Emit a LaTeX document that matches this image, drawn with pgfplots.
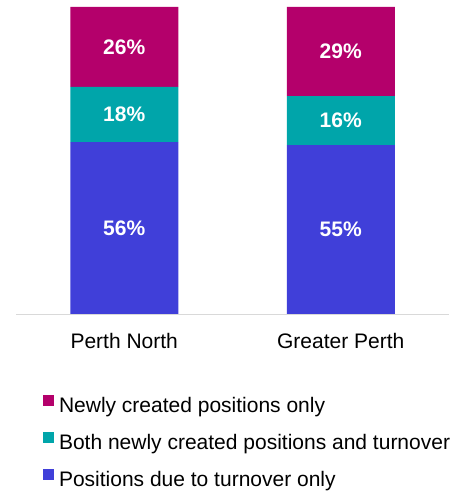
\documentclass[border=0pt]{standalone}
\usepackage{pgfplots}
\pgfplotsset{compat=1.18}
\usepackage{fontspec}
\setmainfont{Liberation Sans}
\definecolor{cmag}{HTML}{B4006B}
\definecolor{cteal}{HTML}{00A5AA}
\definecolor{cblue}{HTML}{403FD9}
\begin{document}
\begin{tikzpicture}
\useasboundingbox (0,0) rectangle (469bp,492bp);
\begin{axis}[
  at={(16bp,178bp)}, anchor=south west,
  scale only axis, width=433bp, height=307bp,
  ybar stacked, bar width=108bp,
  xmin=-0.5, xmax=1.5, ymin=0, ymax=100,
  axis y line=none, axis x line*=bottom,
  x axis line style={draw=black!15, line width=1bp, -},
  xtick={0,1}, xticklabels={Perth North, Greater Perth},
  major tick length=0,
  xticklabel style={font=\fontsize{21bp}{25bp}\selectfont, text=black, inner sep=0pt, yshift=-19bp},
  point meta=explicit,
  nodes near coords={\pgfmathprintnumber[assume math mode=true]{\pgfplotspointmeta}\%},
  every node near coord/.append style={font=\bfseries\fontsize{21bp}{25bp}\selectfont, text=white, anchor=center},
  reverse legend,
  legend cell align=left,
  legend image code/.code={\fill[#1] (0bp,0bp) rectangle (11bp,11bp);},
  legend style={draw=none, fill=none, inner sep=0pt, outer sep=0pt,
    at={(axis description cs:0.0624,-0.264)}, anchor=north west,
    row sep=17.5bp, column sep=5bp,
    font=\fontsize{21bp}{25bp}\selectfont,
    nodes={inner sep=0pt}},
]
\addplot[fill=cblue, draw=none] coordinates {(0,56) [56] (1,55) [55]};
\addlegendentry{Positions due to turnover only}
\addplot[fill=cteal, draw=none] coordinates {(0,18) [18] (1,16) [16]};
\addlegendentry{Both newly created positions and turnover}
\addplot[fill=cmag, draw=none] coordinates {(0,26) [26] (1,29) [29]};
\addlegendentry{Newly created positions only}
\end{axis}
\end{tikzpicture}
\end{document}
